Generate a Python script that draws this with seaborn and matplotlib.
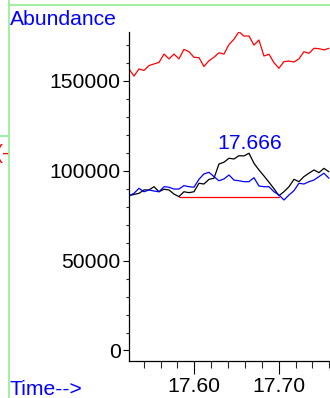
import matplotlib
matplotlib.use('Agg')
import matplotlib.pyplot as plt
import seaborn as sns
import pandas as pd
from matplotlib.ticker import MultipleLocator, FixedLocator
from matplotlib.lines import Line2D

# retention time (min) of each scan
times = [17.5226, 17.5285, 17.5344, 17.5404, 17.5463, 17.5522, 17.5581, 17.5641,
         17.5700, 17.5759, 17.5818, 17.5877, 17.5937, 17.5996, 17.6055, 17.6114,
         17.6174, 17.6233, 17.6292, 17.6351, 17.6411, 17.6470, 17.6529, 17.6588,
         17.6648, 17.6707, 17.6766, 17.6825, 17.6885, 17.6944, 17.7003, 17.7062,
         17.7122, 17.7181, 17.7240, 17.7299, 17.7359, 17.7418, 17.7477, 17.7536,
         17.7595]

red_trace = [156400, 152500, 156400, 155600, 158300, 159200, 160000, 164700,
             162000, 164700, 162000, 167300, 166000, 162900, 162700, 157800,
             161000, 162900, 165400, 164700, 170000, 172900, 177100, 174700,
             174700, 169700, 172500, 163600, 164600, 159900, 156800, 160500,
             160800, 160300, 162000, 166000, 165100, 167900, 167700, 167000,
             167900]

black_trace = [86000, 86700, 87300, 89200, 89200, 91000, 88200, 89600,
               89200, 86900, 85500, 88200, 87700, 88200, 92900, 92500,
               95100, 95700, 103600, 104600, 106800, 106400, 108200, 108100,
               109600, 104000, 100300, 97000, 93500, 89900, 86000, 88200,
               91000, 95100, 93800, 96600, 98500, 100300, 98800, 101200,
               99300]

blue_trace = [86000, 87300, 90100, 88200, 89200, 88600, 88200, 91000,
              90700, 89700, 89700, 91600, 91000, 90700, 95100, 98100,
              99000, 96600, 94300, 95300, 97500, 94700, 94300, 93800,
              93800, 96000, 91400, 91000, 91000, 88200, 86400, 83600,
              86400, 88800, 92900, 92500, 93800, 94700, 96600, 98500,
              95700]

# integration baseline
base_t = [17.5818, 17.7003]
base_v = [85300, 85300]

peak_rt = 17.666
peak_label = '17.666'

y_ticks = [0, 50000, 100000, 150000]
x_ticks = [17.60, 17.70]
x_labels = ['17.60', '17.70']

sns.set_style('ticks')
plt.rcParams['font.family'] = ['Liberation Sans', 'DejaVu Sans']
fs = 15.2

fig = plt.figure(figsize=(3.30, 3.98), dpi=100)
ax = fig.add_axes([129 / 330, 37.3 / 398, 1 - 129 / 330, 328.7 / 398])

df = pd.DataFrame({'t': times, 'red': red_trace, 'black': black_trace, 'blue': blue_trace})
sns.lineplot(data=df, x='t', y='red', color='#ff0000', lw=0.9, ax=ax, estimator=None, sort=False)
sns.lineplot(data=df, x='t', y='black', color='black', lw=0.9, ax=ax, estimator=None, sort=False)
sns.lineplot(data=df, x='t', y='blue', color='#0000ff', lw=0.9, ax=ax, estimator=None, sort=False)
sns.lineplot(x=base_t, y=base_v, color='#ff0000', lw=0.9, ax=ax, estimator=None)

ax.text(peak_rt, 111800, peak_label, color='#0000ff', fontsize=fs, ha='center', va='baseline')

ax.set_xlim(17.5226, 17.7608)
ax.set_ylim(-5667, 176950)
ax.set_xlabel('')
ax.set_ylabel('')

ax.xaxis.set_major_locator(FixedLocator(x_ticks))
ax.set_xticklabels(x_labels)
ax.xaxis.set_minor_locator(MultipleLocator(0.02))
ax.set_yticks(y_ticks)
ax.set_yticklabels([str(v) for v in y_ticks])
ax.yaxis.set_minor_locator(MultipleLocator(10000))

ax.tick_params(axis='x', which='major', length=9, width=0.8, pad=2.5, labelsize=fs, colors='black')
ax.tick_params(axis='x', which='minor', length=4.7, width=0.8)
ax.tick_params(axis='y', which='major', length=4.3, width=0.8, pad=1.8, labelsize=fs, colors='black')
ax.tick_params(axis='y', which='minor', length=2.2, width=0.8)

for s in ['top', 'right']:
    ax.spines[s].set_visible(False)
for s in ['left', 'bottom']:
    ax.spines[s].set_linewidth(0.9)
    ax.spines[s].set_color('black')

# frame lines and labels outside the axes
green = '#98f098'
fig.add_artist(Line2D([8.7 / 330, 8.7 / 330], [0, 1], color=green, lw=1.3, transform=fig.transFigure))
fig.add_artist(Line2D([8.7 / 330, 1], [1 - 4.7 / 398, 1 - 4.7 / 398], color=green, lw=1.3, transform=fig.transFigure))
fig.add_artist(Line2D([0, 8.7 / 330], [1 - 136 / 398, 1 - 136 / 398], color=green, lw=1.3, transform=fig.transFigure))
fig.text(-4.5 / 330, 1 - 153 / 398, '(-', color='#ff0000', fontsize=fs, ha='left', va='center')

fig.text(10 / 330, 1 - 25 / 398, 'Abundance', color='#0000ff', fontsize=fs, ha='left', va='baseline')
fig.text(10 / 330, 1 - 395 / 398, 'Time-->', color='#0000ff', fontsize=fs, ha='left', va='baseline')

fig.savefig('out.png', dpi=100)
